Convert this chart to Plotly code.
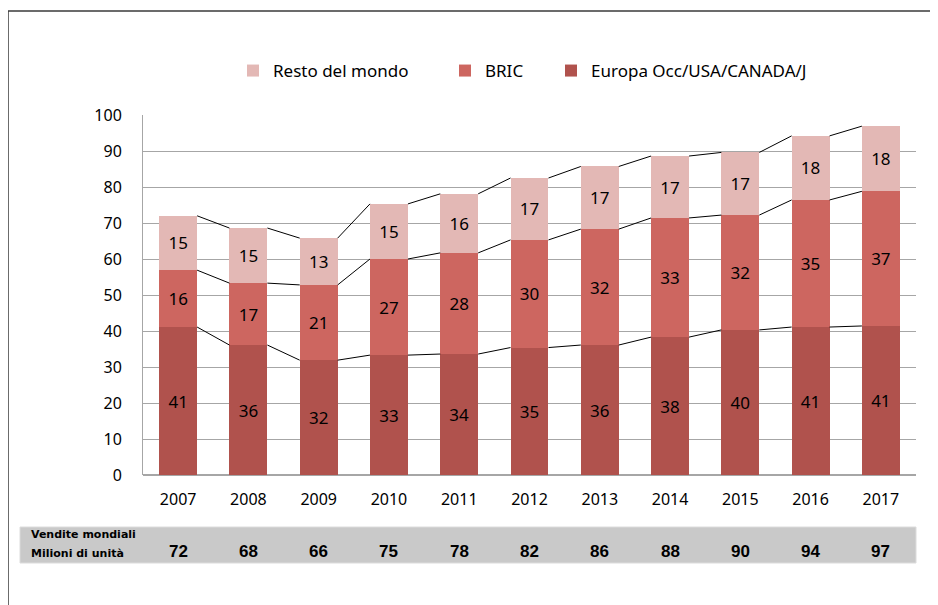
import plotly.graph_objects as go

anni = ['2007', '2008', '2009', '2010', '2011', '2012', '2013', '2014', '2015', '2016', '2017']
europa = [41.1, 36.1, 31.9, 33.3, 33.6, 35.4, 36.1, 38.3, 40.3, 41.1, 41.4]
bric = [15.8, 17.2, 20.9, 26.7, 28.1, 29.9, 32.2, 33.1, 31.9, 35.3, 37.4]
resto = [15.1, 15.3, 13.0, 15.3, 16.4, 17.2, 17.4, 17.2, 17.4, 17.8, 18.1]
etich_europa = [41, 36, 32, 33, 34, 35, 36, 38, 40, 41, 41]
etich_bric = [16, 17, 21, 27, 28, 30, 32, 33, 32, 35, 37]
etich_resto = [15, 15, 13, 15, 16, 17, 17, 17, 17, 18, 18]
totali = [72, 68, 66, 75, 78, 82, 86, 88, 90, 94, 97]

col_europa = '#b0524d'
col_bric = '#cd6660'
col_resto = '#e3b8b5'
font_main = 'Noto Sans'

# la pagina ha un margine di 8px: la figura parte da (8, 8)
OFF = 8
W, H = 938 - OFF, 605 - OFF
ML, MR, MT, MB = 143 - OFF, 22, 115 - OFF, 130
PW, PH = W - ML - MR, H - MT - MB


def px_x(p):
    return (p - OFF - ML) / PW


def px_y(p):
    return (H - MB - (p - OFF)) / PH


xs = list(range(len(anni)))
bw = 0.54

fig = go.Figure()
serie = [('Europa Occ/USA/CANADA/J', europa, etich_europa, col_europa, 'legend3'),
         ('BRIC', bric, etich_bric, col_bric, 'legend2'),
         ('Resto del mondo', resto, etich_resto, col_resto, 'legend')]
for nome, vals, etich, col, leg in serie:
    fig.add_trace(go.Bar(
        x=xs, y=vals, name=nome, marker=dict(color=col, line=dict(width=0)),
        width=bw, text=[str(v) for v in etich], textposition='inside',
        insidetextanchor='middle', textangle=0,
        textfont=dict(family=font_main, size=17, color='black'),
        legend=leg,
    ))

# linee di serie tra le barre (bordo superiore di ogni segmento)
cum1 = europa
cum2 = [a + b for a, b in zip(europa, bric)]
cum3 = [a + b + c for a, b, c in zip(europa, bric, resto)]
for cum in (cum1, cum2, cum3):
    lx, ly = [], []
    for i in range(len(xs) - 1):
        lx += [xs[i] + bw / 2, xs[i + 1] - bw / 2, None]
        ly += [cum[i], cum[i + 1], None]
    fig.add_trace(go.Scatter(x=lx, y=ly, mode='lines', line=dict(color='black', width=1),
                             showlegend=False, hoverinfo='skip'))

# tabella vendite mondiali
fig.add_shape(type='rect', xref='paper', yref='paper',
              x0=px_x(20), x1=px_x(916), y0=px_y(563), y1=px_y(527),
              fillcolor='#c9c9c9', line=dict(color='#dcdcdc', width=1), layer='below')
fig.add_annotation(xref='paper', yref='paper', x=px_x(29), y=px_y(534), xanchor='left',
                   yanchor='middle', showarrow=False, text='<b>Vendite mondiali</b>',
                   font=dict(family='DejaVu Sans', size=11, color='black'))
fig.add_annotation(xref='paper', yref='paper', x=px_x(29), y=px_y(553), xanchor='left',
                   yanchor='middle', showarrow=False, text='<b>Milioni di unità</b>',
                   font=dict(family='DejaVu Sans', size=11, color='black'))
for x, t in zip(xs, totali):
    fig.add_annotation(xref='x', yref='paper', x=x, y=px_y(551), yanchor='middle',
                       showarrow=False, text=f'<b>{t}</b>',
                       font=dict(family='Liberation Sans', size=17, color='black'))

# cornice esterna
fig.add_shape(type='line', xref='paper', yref='paper', x0=px_x(8), x1=px_x(940),
              y0=px_y(11), y1=px_y(11), line=dict(color='#3a3a3a', width=1.5))
fig.add_shape(type='line', xref='paper', yref='paper', x0=px_x(8), x1=px_x(8),
              y0=px_y(11), y1=px_y(607), line=dict(color='#3a3a3a', width=1.5))

leg_common = dict(orientation='h', yref='paper', y=px_y(71), yanchor='middle',
                  xanchor='left', font=dict(family=font_main, size=17, color='black'),
                  bgcolor='rgba(0,0,0,0)')
fig.update_layout(
    width=W, height=H,
    margin=dict(l=ML, r=MR, t=MT, b=MB),
    paper_bgcolor='white', plot_bgcolor='white',
    barmode='stack', bargap=0.46,
    legend=dict(x=px_x(233), **leg_common),
    legend2=dict(x=px_x(445), **leg_common),
    legend3=dict(x=px_x(551), **leg_common),
    xaxis=dict(tickmode='array', tickvals=xs, ticktext=anni, range=[-0.5, len(xs) - 0.5],
               showgrid=False, showline=False, zeroline=False, ticks='',
               ticklabelstandoff=13,
               tickfont=dict(family=font_main, size=16, color='black')),
    yaxis=dict(range=[0, 100], dtick=10, showgrid=True, gridcolor='#a6a6a6', gridwidth=1,
               showline=True, linecolor='#a6a6a6', linewidth=1, zeroline=True,
               zerolinecolor='#a6a6a6', ticks='', ticklabelstandoff=17,
               tickfont=dict(family=font_main, size=16, color='black')),
)

fig.write_html('out.html')
